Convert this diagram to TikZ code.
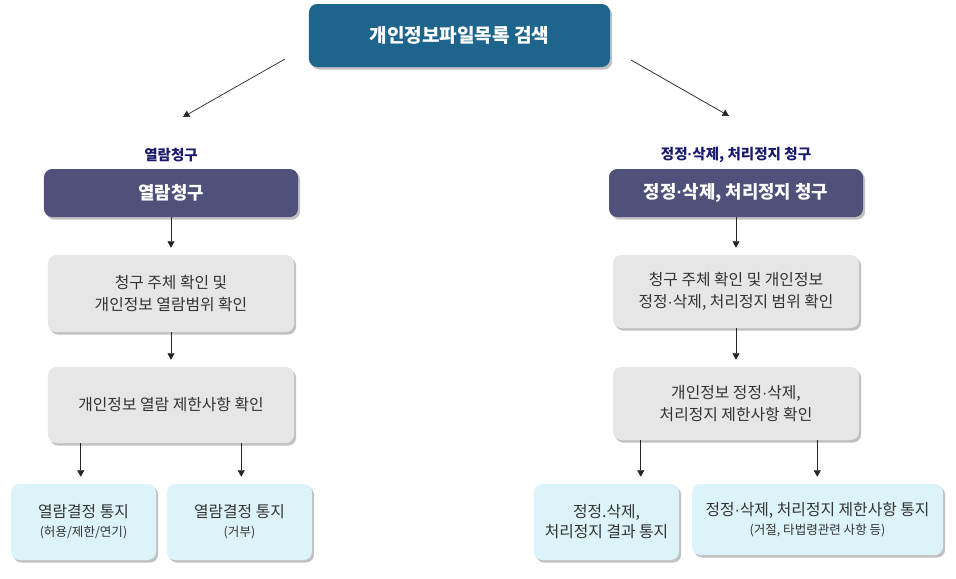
\documentclass[tikz,border=0pt]{standalone}
\usepackage{fontspec}
\setmainfont{Noto Sans CJK KR}
\newfontfamily\dotfont{Liberation Sans}
\newcommand{\md}{{\dotfont ·}}
\newcommand{\notesub}[1]{{\fontsize{10.7}{13}\selectfont #1}}
\usepackage{tikz}
\usetikzlibrary{arrows.meta,positioning,calc,shadows}
\usepackage{xcolor}
\definecolor{ftitle}{HTML}{1D658D}
\definecolor{fpurple}{HTML}{50517A}
\definecolor{fgray}{HTML}{E6E6E6}
\definecolor{fblue}{HTML}{DDF3FA}
\definecolor{fnavy}{HTML}{1A1A6E}
\definecolor{ftext}{HTML}{333333}

\begin{document}
\begin{tikzpicture}[x=0.03cm,y=-0.03cm,
  box/.style={rounded corners=7pt,inner sep=0pt,align=center,text=ftext,
    drop shadow={shadow xshift=1.8pt,shadow yshift=-2.2pt,opacity=.35,fill=black!70}},
  titlebox/.style={box,fill=ftitle,text=white,font=\bfseries\fontsize{16.3}{19}\selectfont,
    minimum width=9.03cm,minimum height=1.89cm},
  reqbox/.style={box,fill=fpurple,text=white,font=\bfseries\fontsize{15.2}{18}\selectfont,
    minimum width=7.62cm,minimum height=1.44cm},
  checkbox/.style={box,fill=fgray,font=\fontsize{13.5}{18.8}\selectfont,
    minimum width=7.38cm},
  notebox/.style={box,fill=fblue,font=\fontsize{13.5}{17}\selectfont,
    minimum width=4.35cm,minimum height=2.28cm},
  reqlabel/.style={text=fnavy,font=\bfseries\fontsize{12.4}{14}\selectfont,inner sep=0pt},
  arr/.style={-{Triangle[width=6pt,length=5.5pt]},black!85,line width=0.6pt}]
\useasboundingbox (0,0) rectangle (956,578);

% top
\node[titlebox] (top) at (459.5,35.5) {개인정보파일목록 검색};
\coordinate (tl) at (285,59);
\coordinate (tr) at (631,60);
\coordinate (ll) at (183,117);
\coordinate (lr) at (729,116);
\draw[arr] (tl) -- (ll);
\draw[arr] (tr) -- (lr);

% left: 열람
\node[reqlabel] (rl) at (171,155) {열람청구};
\node[reqbox] (pl) at (171,193) {열람청구};
\node[checkbox,minimum height=2.31cm] (gl1) at (171,293.5) {청구 주체 확인 및\\개인정보 열람범위 확인};
\node[checkbox,minimum height=2.28cm] (gl2) at (171,405) {개인정보 열람 제한사항 확인};
\node[notebox] (bl1) at (83.5,522) {열람결정 통지\\[-1pt]\notesub{(허용/제한/연기)}};
\node[notebox] (bl2) at (239.5,522) {열람결정 통지\\[-1pt]\notesub{(거부)}};
\coordinate (fl1) at ($(gl2.south west)+(33,0)$);
\coordinate (fl2) at ($(gl2.south east)+(-53,0)$);
\draw[arr,shorten >=6pt] (pl) -- (gl1);
\draw[arr,shorten >=6pt] (gl1) -- (gl2);
\draw[arr,shorten >=6pt] (fl1) -- (fl1 |- bl1.north);
\draw[arr,shorten >=6pt] (fl2) -- (fl2 |- bl2.north);

% right: 정정·삭제, 처리정지
\node[reqlabel] (rr) at (736,155) {정정\md 삭제, 처리정지 청구};
\node[reqbox] (pr) at (736,193) {정정\md 삭제, 처리정지 청구};
\node[checkbox,minimum height=2.19cm] (gr1) at (736,291.5) {청구 주체 확인 및 개인정보\\정정\md 삭제, 처리정지 범위 확인};
\node[checkbox,minimum height=2.19cm] (gr2) at (736,403.5) {개인정보 정정\md 삭제,\\처리정지 제한사항 확인};
\node[notebox] (br1) at (606.5,522) {정정.삭제,\\처리정지 결과 통지};
\node[notebox,minimum width=7.53cm,minimum height=2.13cm] (br2) at (817.5,519.5) {정정\md 삭제, 처리정지 제한사항 통지\\[-1pt]\notesub{(거절, 타법령관련 사항 등)}};
\coordinate (fr1) at ($(gr2.south west)+(28,0)$);
\coordinate (fr2) at ($(gr2.south east)+(-42,0)$);
\draw[arr,shorten >=6pt] (pr) -- (gr1);
\draw[arr,shorten >=6pt] (gr1) -- (gr2);
\draw[arr,shorten >=6pt] (fr1) -- (fr1 |- br1.north);
\draw[arr,shorten >=6pt] (fr2) -- (fr2 |- br2.north);
\end{tikzpicture}
\end{document}
